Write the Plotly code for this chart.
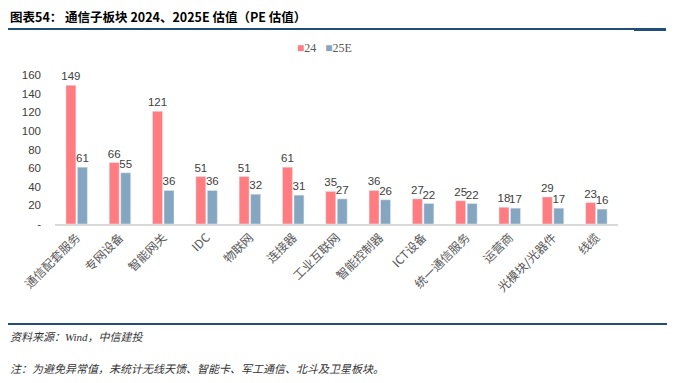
import plotly.graph_objects as go

categories = ["通信配套服务", "专网设备", "智能网关", "IDC", "物联网", "连接器", "工业互联网",
              "智能控制器", "ICT设备", "统一通信服务", "运营商", "光模块/光器件", "线缆"]
pe_2024 = [149, 66, 121, 51, 51, 61, 35, 36, 27, 25, 18, 29, 23]
pe_2025e = [61, 55, 36, 36, 32, 31, 27, 26, 22, 22, 17, 17, 16]
ytick_vals = [0, 20, 40, 60, 80, 100, 120, 140, 160]
ytick_text = ["-", "20", "40", "60", "80", "100", "120", "140", "160"]

OFF = 8  # page body margin
W, H = 700 - OFF, 383 - OFF
L, R, T, B = 55 - OFF, 618 - OFF, 75 - OFF, 224 - OFF  # plot area in figure pixels
pw, ph = R - L, B - T

def px(x):
    # x given in page pixels
    return (max(x - OFF, 0) - L) / pw

def py(y):
    return (B - (y - OFF)) / ph

sans = "Liberation Sans, Noto Sans CJK SC, sans-serif"
cjk = "Noto Sans CJK SC, sans-serif"
serif = "Liberation Serif, Noto Sans CJK SC, serif"

fig = go.Figure()
fig.add_trace(go.Bar(
    name="24", x=categories, y=pe_2024, marker_color="#FF7C80",
    text=[str(v) for v in pe_2024], textposition="outside", cliponaxis=False,
    constraintext="none", textfont=dict(family=sans, size=11.5, color="#404040"),
))
fig.add_trace(go.Bar(
    name="25E", x=categories, y=pe_2025e, marker_color="#84A6C0",
    text=[str(v) for v in pe_2025e], textposition="outside", cliponaxis=False,
    constraintext="none", textfont=dict(family=sans, size=11.5, color="#404040"),
))

fig.update_layout(
    width=W, height=H,
    margin=dict(l=L, r=W - R, t=T, b=H - B, pad=0, autoexpand=False),
    plot_bgcolor="white", paper_bgcolor="white",
    barmode="group", bargap=0.47, bargroupgap=0.13,
    showlegend=False,
    xaxis=dict(showline=True, linecolor="#D9D9D9", linewidth=1.5, ticks="",
               tickangle=-45, automargin=False,
               tickfont=dict(family=cjk, size=12, color="#595959"),
               showgrid=False),
    yaxis=dict(range=[0, 160], tickvals=ytick_vals, ticktext=ytick_text,
               showgrid=False, zeroline=False, showline=False, ticks="",
               ticklabelstandoff=13, automargin=False,
               tickfont=dict(family=sans, size=11.5, color="#404040")),
)

legend_text = ("<span style='color:#FF7C80'>■</span>24&nbsp;&nbsp;&nbsp;"
               "<span style='color:#84A6C0'>■</span>25E")

annotations = [
    dict(text="<b>图表54： 通信子板块 2024、2025E 估值（PE 估值）</b>", x=px(7), y=py(16),
         xanchor="left", yanchor="middle", font=dict(family=cjk, size=12.5, color="#000000")),
    dict(text=legend_text, x=px(295), y=py(48),
         xanchor="left", yanchor="middle", font=dict(family=serif, size=12, color="#595959")),
    dict(text="<i>资料来源：Wind，中信建投</i>", x=px(7), y=py(337),
         xanchor="left", yanchor="middle", font=dict(family=serif, size=11, color="#333333")),
    dict(text="<i>注：为避免异常值，未统计无线天馈、智能卡、军工通信、北斗及卫星板块。</i>", x=px(7), y=py(369),
         xanchor="left", yanchor="middle", font=dict(family=serif, size=11, color="#333333")),
]
for a in annotations:
    a.update(xref="paper", yref="paper", showarrow=False)
fig.update_layout(annotations=annotations)

shapes = [
    dict(type="line", x0=px(7), x1=px(666), y0=py(29), y1=py(29), line=dict(color="#1F4E79", width=2)),
    dict(type="line", x0=px(634), x1=px(666), y0=py(29.5), y1=py(29.5), line=dict(color="#1F4E79", width=3)),
    dict(type="line", x0=px(7), x1=px(667), y0=py(324), y1=py(324), line=dict(color="#1F4E79", width=2)),
]
for s in shapes:
    s.update(xref="paper", yref="paper")
fig.update_layout(shapes=shapes)

fig.write_html("out.html")
